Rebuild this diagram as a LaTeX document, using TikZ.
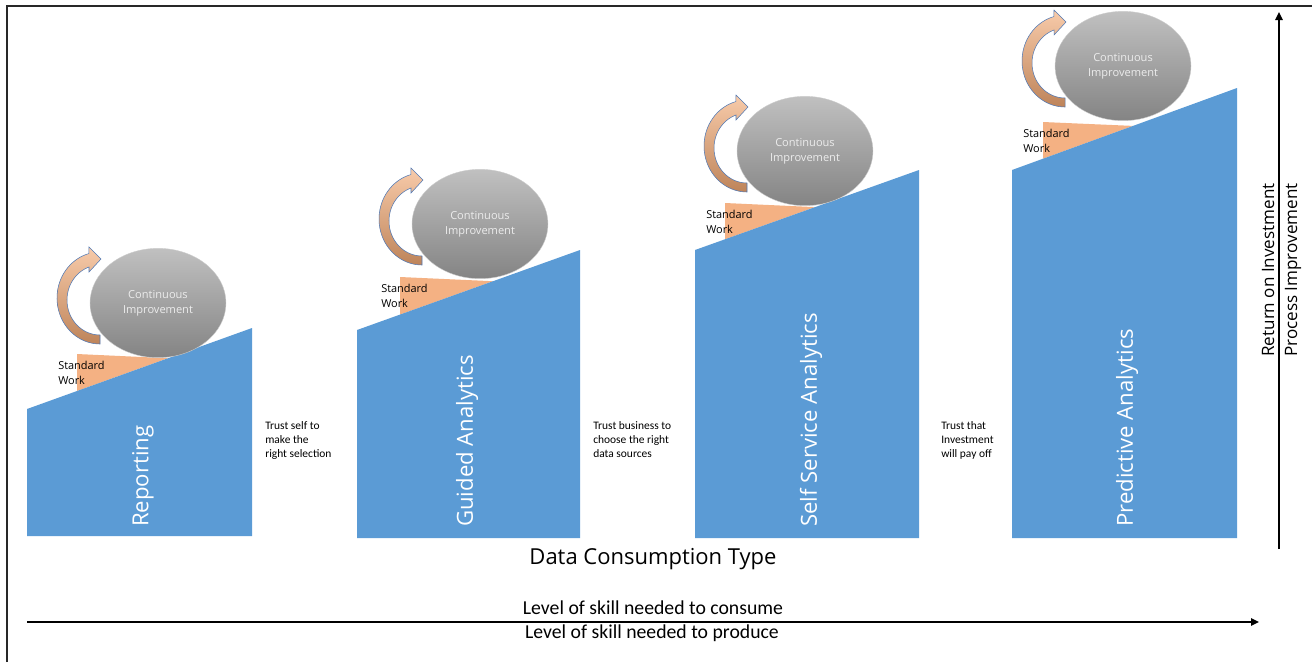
\documentclass[tikz,border=0pt]{standalone}
\usepackage{fontspec}
\setmainfont{Open Sans}
\newfontfamily\calfont{Carlito}
\usetikzlibrary{shapes.geometric,arrows.meta}
\definecolor{blueP}{RGB}{91,155,213}
\definecolor{orangeP}{RGB}{244,177,131}
\definecolor{arrTop}{RGB}{248,203,170}
\definecolor{arrBot}{RGB}{190,132,90}
\definecolor{arrLine}{RGB}{80,120,180}
\definecolor{ellTop}{RGB}{192,192,192}
\definecolor{ellBot}{RGB}{132,132,132}
\definecolor{ciText}{RGB}{236,236,236}
\definecolor{frameC}{RGB}{40,40,40}
\newcommand{\ciGroup}[3]{%
  \begin{scope}[shift={(#1,#2)}]
    \path[ciarrow] plot[domain=90:255,samples=40] ({100+43*cos(\x)},{298+46*sin(\x)})
      -- (89,247) -- (101,259) -- (89,272)
      -- plot[domain=250.53:90,samples=40] ({100+33*cos(\x)},{300+35*sin(\x)}) -- cycle;
    \node[ciell] (ci#3) at (158,303) {Continuous\\Improvement};
  \end{scope}}
\begin{document}
\begin{tikzpicture}[x=0.75pt,y=-0.75pt,
  panel/.style={fill=blueP},
  stdwork/.style={fill=orangeP},
  ciarrow/.style={top color=arrTop,bottom color=arrBot,draw=arrLine,line width=0.4pt},
  ciell/.style={ellipse,minimum width=102pt,minimum height=82pt,inner sep=0pt,
    top color=ellTop,bottom color=ellBot,draw=ellTop!80!white,line width=0.3pt,
    text=ciText,align=center,font=\fontsize{8.3}{11.2}\selectfont},
  swlabel/.style={anchor=west,inner sep=0pt,align=left,font=\fontsize{8.2}{11.2}\selectfont},
  trust/.style={anchor=west,inner sep=0pt,align=left,font=\calfont\fontsize{8.6}{10.5}\selectfont},
  plabel/.style={rotate=90,anchor=west,inner sep=0pt,text=white,font=\fontsize{16.6}{19}\selectfont},
  axlabel/.style={inner sep=0pt,font=\fontsize{12.8}{15}\selectfont},
  lvl/.style={inner sep=0pt,font=\calfont\fontsize{14.8}{17}\selectfont},
  axis/.style={line width=1.2pt,-{Triangle[length=6pt,width=5.5pt]}},
  frame/.style={draw=frameC,line width=1.1pt}]
\useasboundingbox (0,0) rectangle (1312,662);
\draw[frame] (7,662) -- (7,6) -- (1312,6);

% standard work wedges
\fill[stdwork] (77,354) -- (77,391) -- (168,358.2) -- cycle;
\fill[stdwork] (400,277) -- (400,314.6) -- (493,281.2) -- cycle;
\fill[stdwork] (725,203) -- (725,239.3) -- (815,207.1) -- cycle;
\fill[stdwork] (1043,122) -- (1043,158.7) -- (1133,125.9) -- cycle;

% blue panels
\fill[panel] (27,536) -- (27,409) -- (252,328) -- (252,536) -- cycle;
\fill[panel] (357,538) -- (357,330) -- (580,250) -- (580,538) -- cycle;
\fill[panel] (695,538) -- (695,250) -- (919,170) -- (919,538) -- cycle;
\fill[panel] (1012,538) -- (1012,170) -- (1237,88) -- (1237,538) -- cycle;

\node[plabel] (p1) at (143,527) {Reporting};
\node[plabel] (p2) at (467,527) {Guided Analytics};
\node[plabel] (p3) at (811,527) {Self Service Analytics};
\node[plabel] (p4) at (1127,527) {Predictive Analytics};

% continuous improvement groups
\ciGroup{0}{0}{1}
\ciGroup{322}{-79}{2}
\ciGroup{647}{-152}{3}
\ciGroup{965}{-237}{4}

\node[swlabel] (sw1) at (58,372.5) {Standard\\Work};
\node[swlabel] (sw2) at (381,295.5) {Standard\\Work};
\node[swlabel] (sw3) at (706,221.5) {Standard\\Work};
\node[swlabel] (sw4) at (1023,140.5) {Standard\\Work};

\node[trust] (t1) at (265,440) {Trust self to\\make the\\right selection};
\node[trust] (t2) at (593,440) {Trust business to\\choose the right\\data sources};
\node[trust] (t3) at (941,440) {Trust that\\Investment\\will pay off};

\node[inner sep=0pt,font=\fontsize{16.5}{18}\selectfont] (dct) at (653,559) {Data Consumption Type};

% axes
\coordinate (hs) at (27,622);
\coordinate (he) at (1259,622);
\draw[axis] (hs) -- (he);
\node[lvl] (lc) at (653,608) {Level of skill needed to consume};
\node[lvl] (lp) at (652,633) {Level of skill needed to produce};

\coordinate (vs) at (1279,549);
\coordinate (ve) at (1279,12);
\draw[axis] (vs) -- (ve);
\node[axlabel,rotate=90] (roi) at (1268,270) {Return on Investment};
\node[axlabel,rotate=90] (pim) at (1293,270) {Process Improvement};
\end{tikzpicture}
\end{document}
